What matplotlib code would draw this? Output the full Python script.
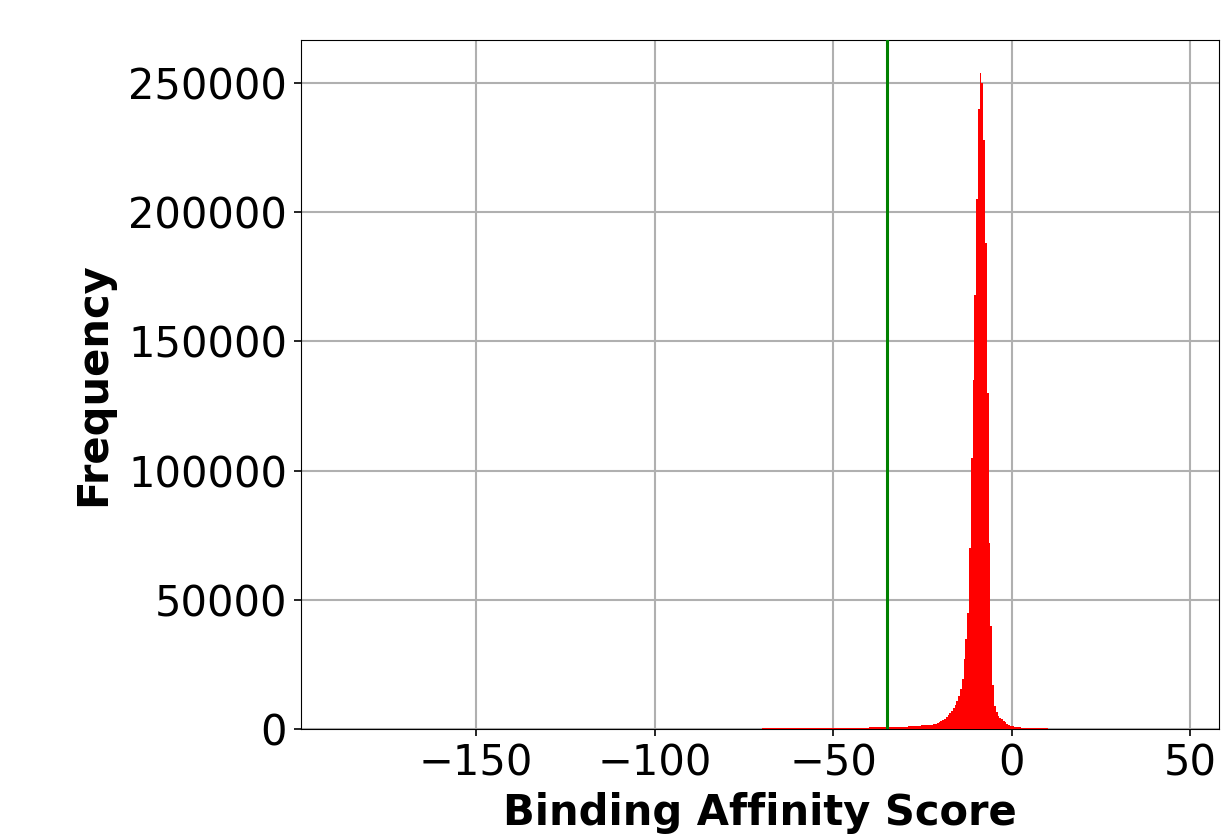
import numpy as np
import matplotlib
matplotlib.use("Agg")
import matplotlib.pyplot as plt

# histogram bins (left edges) and counts
tail_left_edges = [-75, -70, -65, -60, -55, -50, -45, -40, -35]
tail_left_counts = [100, 200, 250, 300, 350, 400, 500, 600, 800]

# 0.5-wide bins from -30 to 5
core_edges = np.arange(-30, 5.01, 0.5)
core_counts = [
    900, 950, 1000, 1050, 1100, 1150, 1200, 1250, 1300, 1350,
    1400, 1450, 1500, 1550, 1600, 1650, 1750, 1900, 2200, 2500,
    2900, 3400, 4000, 4600, 5300, 6000, 6900, 8000, 9300, 10800,
    12800, 15500, 19500, 27000, 35000, 45000, 70000, 105000, 135000, 168000,
    205000, 240000, 254000, 250000, 228000, 188000, 130000, 72000, 40000, 17000,
    9000, 6500, 5200, 4400, 3700, 3000, 2500, 2000, 1600, 1300,
    1000, 850, 750, 650, 600, 550, 500, 480, 450, 420,
]

tail_right_edges = [5, 10, 15]
tail_right_counts = [400, 150]

threshold = -35

edges = np.concatenate([tail_left_edges, core_edges[:-1], tail_right_edges])
counts = np.concatenate([tail_left_counts, core_counts, tail_right_counts])
centers = (edges[:-1] + edges[1:]) / 2

fig = plt.figure(figsize=(12.27, 8.35), dpi=100)
ax = fig.add_axes([0.2453, 0.127, 0.7482, 0.825])

ax.hist(centers, bins=edges, weights=counts, histtype="stepfilled",
        color="red", linewidth=0, zorder=3)
ax.axvline(threshold, color="green", linewidth=2.2, zorder=4)

ax.set_xlim(-199, 58)
ax.set_ylim(0, 266600)
ax.set_xticks([-150, -100, -50, 0, 50])
ax.set_yticks([0, 50000, 100000, 150000, 200000, 250000])

ax.grid(True, color="#b0b0b0", linewidth=1.5, zorder=0)
ax.set_axisbelow(True)
ax.tick_params(labelsize=30, length=5, width=1.2, pad=5)

ax.set_xlabel("Binding Affinity Score", fontsize=30, fontweight="bold", labelpad=5)
ax.set_ylabel("Frequency", fontsize=30, fontweight="bold", labelpad=10)

fig.savefig("out.png", dpi=100)
